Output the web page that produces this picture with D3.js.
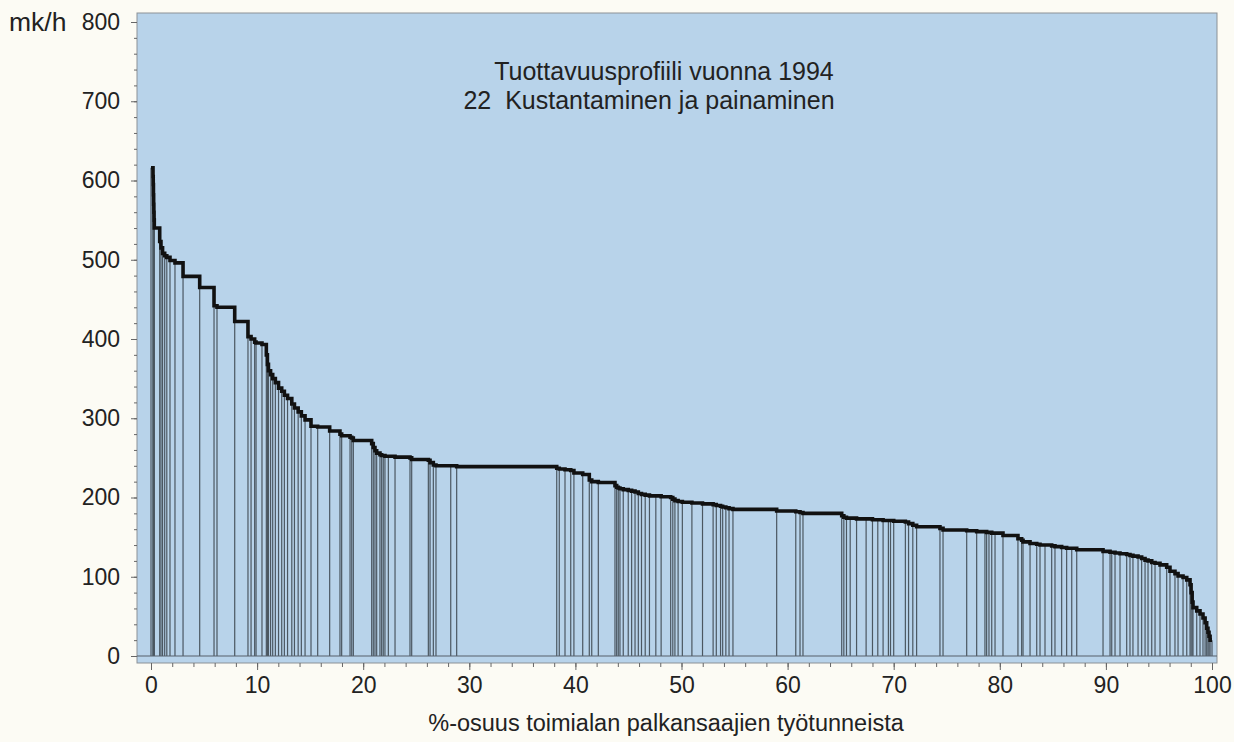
<!DOCTYPE html>
<meta charset="utf-8">
<title>Tuottavuusprofiili 1994</title>
<style>
body {
  margin: 0;
  background: #fcfbf4;
  font-family: "Liberation Sans", Arial, sans-serif;
}
svg text {
  fill: #222;
  font-size: 23px;
}
.axis path {
  display: none;
}
.axis line {
  stroke: #666;
}
.plant-edge {
  stroke: #4b5761;
  stroke-width: 1.2;
}
</style>
<body>
<svg width="1234" height="742"></svg>

<script src="https://d3js.org/d3.v7.min.js"></script>
<script>

// share of the industry's working hours (%) for each plant, in falling order
var shares = [
  0.19, 0.02, 0.02, 0.02, 0.02, 0.02, 0.02, 0.51, 0.12, 0.15,
  0.20, 0.20, 0.30, 0.47, 0.76, 1.57, 1.35, 0.28, 1.67, 1.25,
  0.29, 0.34, 0.13, 0.56, 0.41, 0.10, 0.10, 0.20, 0.20, 0.25,
  0.30, 0.30, 0.25, 0.30, 0.40, 0.25, 0.35, 0.30, 0.35, 0.56,
  0.63, 1.13, 0.97, 0.16, 0.79, 0.16, 0.15, 1.73, 0.15, 0.16,
  0.16, 0.31, 0.16, 0.15, 0.16, 0.32, 0.63, 1.41, 0.16, 1.57,
  0.16, 0.31, 0.25, 1.39, 0.56, 9.43, 0.24, 0.54, 0.54, 0.30,
  0.83, 0.62, 0.23, 0.62, 1.57, 0.16, 0.15, 0.16, 0.31, 0.47,
  0.32, 0.32, 0.31, 0.30, 0.35, 0.40, 0.60, 0.50, 0.90, 0.20,
  0.20, 0.30, 0.40, 0.90, 1.00, 1.00, 0.30, 0.40, 0.20, 0.30,
  0.30, 0.37, 4.12, 1.80, 0.40, 0.28, 3.65, 0.20, 0.25, 0.35,
  0.60, 0.90, 0.60, 0.50, 0.50, 0.50, 0.20, 0.30, 1.10, 0.30,
  0.40, 0.36, 2.20, 0.29, 2.23, 0.94, 0.78, 0.16, 0.22, 0.26,
  0.31, 0.75, 1.41, 0.35, 0.13, 0.66, 0.63, 0.31, 0.47, 0.63,
  0.31, 0.63, 0.47, 0.48, 0.47, 2.48, 0.66, 0.16, 0.31, 0.47,
  0.63, 0.31, 0.28, 0.48, 0.34, 0.32, 0.28, 0.35, 0.31, 0.47,
  0.63, 0.31, 0.47, 0.29, 0.47, 0.35, 0.31, 0.10, 0.10, 0.08,
  0.35, 0.31, 0.28, 0.20, 0.15, 0.12, 0.10, 0.10, 0.18
];

// productivity of each plant, mk per hour
var productivity = [
  616, 605, 595, 582, 570, 560, 550, 540, 523, 515,
  508, 505, 503, 499, 496, 479, 465, 442, 440, 422,
  403, 400, 396, 395, 393, 380, 368, 360, 355, 350,
  345, 338, 334, 329, 325, 318, 313, 308, 303, 298,
  290, 289, 284, 280, 278, 276, 275, 272, 268, 263,
  259, 256, 254, 253, 253, 252, 252, 251, 250, 248,
  247, 244, 241, 240, 240, 239, 237, 236, 235, 234,
  231, 229, 222, 220, 219, 215, 213, 212, 211, 210,
  209, 208, 207, 205, 204, 203, 202, 202, 201, 200,
  198, 196, 195, 194, 193, 192, 191, 190, 189, 188,
  187, 186, 185, 183, 182, 181, 180, 177, 175, 174,
  174, 173, 173, 172, 172, 171, 171, 171, 170, 169,
  167, 165, 163, 161, 159, 158, 157, 157, 156, 156,
  155, 155, 152, 148, 146, 144, 142, 141, 140, 140,
  139, 138, 137, 136, 136, 134, 132, 131, 131, 130,
  129, 128, 127, 126, 125, 123, 121, 120, 118, 117,
  115, 112, 107, 104, 101, 99, 96, 90, 80, 68,
  61, 57, 53, 48, 42, 35, 30, 25, 20
];

var yTicks = [0, 100, 200, 300, 400, 500, 600, 700, 800];
var xTicks = [0, 10, 20, 30, 40, 50, 60, 70, 80, 90, 100];

var titleLines = ["Tuottavuusprofiili vuonna 1994", "22  Kustantaminen ja painaminen"];
var yUnit = "mk/h";
var xTitle = "%-osuus toimialan palkansaajien työtunneista";

var svg = d3.select("svg");

// plot panel
var panel = {left: 137, top: 13, right: 1217, bottom: 663};

var x = d3.scaleLinear().domain([0, 100]).range([151, 1212]);
var y = d3.scaleLinear().domain([0, 800]).range([656, 22]);

svg.append("rect")
    .attr("x", panel.left)
    .attr("y", panel.top)
    .attr("width", panel.right - panel.left)
    .attr("height", panel.bottom - panel.top)
    .attr("fill", "#b8d3ea")
    .attr("stroke", "#8b9196")
    .attr("stroke-width", 1);

// start / end positions of each plant
var ends = Array.from(d3.cumsum(shares));
var plants = productivity.map(function(v, i) {
  return {value: v, start: i ? ends[i - 1] : 0, end: ends[i]};
});

// thin edges of every plant bar
svg.append("g")
  .selectAll("line")
  .data(plants)
  .enter().append("line")
    .attr("class", "plant-edge")
    .attr("x1", function(d) { return x(d.start); })
    .attr("x2", function(d) { return x(d.start); })
    .attr("y1", y(0))
    .attr("y2", function(d) { return y(d.value); });

var last = plants[plants.length - 1];
svg.append("line")
    .attr("class", "plant-edge")
    .attr("x1", x(last.end)).attr("x2", x(last.end))
    .attr("y1", y(0)).attr("y2", y(last.value));

// zero line
svg.append("line")
    .attr("x1", panel.left).attr("x2", panel.right)
    .attr("y1", y(0)).attr("y2", y(0))
    .attr("stroke", "#56616b")
    .attr("stroke-width", 1.2);

// the profile itself, a stepped line across the tops
var pts = [];
plants.forEach(function(d) {
  pts.push([d.start, d.value]);
  pts.push([d.end, d.value]);
});

var line = d3.line()
    .x(function(d) { return x(d[0]); })
    .y(function(d) { return y(d[1]); });

svg.append("path")
    .datum(pts)
    .attr("d", line)
    .attr("fill", "none")
    .attr("stroke", "#111")
    .attr("stroke-width", 3.6)
    .attr("stroke-linejoin", "miter");

// y axis, major + minor ticks
svg.append("g")
    .attr("class", "axis")
    .attr("transform", "translate(" + panel.left + ",0)")
    .call(d3.axisLeft(y).tickValues(d3.range(0, 801, 20)).tickSize(3).tickFormat(""));

svg.append("g")
    .attr("class", "axis")
    .attr("transform", "translate(" + panel.left + ",0)")
    .call(d3.axisLeft(y).tickValues(yTicks).tickSize(6).tickPadding(11))
  .selectAll("text")
    .style("font-size", "23px")
    .attr("font-family", "Liberation Sans, Arial, sans-serif");

// x axis
svg.append("g")
    .attr("class", "axis")
    .attr("transform", "translate(0," + panel.bottom + ")")
    .call(d3.axisBottom(x).tickValues(d3.range(0, 101, 2)).tickSize(4).tickFormat(""));

svg.append("g")
    .attr("class", "axis")
    .attr("transform", "translate(0," + panel.bottom + ")")
    .call(d3.axisBottom(x).tickValues(xTicks).tickSize(7).tickPadding(7))
  .selectAll("text")
    .style("font-size", "23px")
    .attr("font-family", "Liberation Sans, Arial, sans-serif");

svg.selectAll(".axis text").style("fill", "#222");

// unit label
svg.append("text")
    .attr("x", 9)
    .attr("y", 31)
    .style("font-size", "26.5px")
    .text(yUnit);

// title inside the panel
var titleX = [664, 649];
svg.append("g")
  .selectAll("text")
  .data(titleLines)
  .enter().append("text")
    .attr("x", function(d, i) { return titleX[i]; })
    .attr("y", function(d, i) { return 80 + i * 29; })
    .attr("text-anchor", "middle")
    .style("font-size", "25px")
    .style("white-space", "pre")
    .text(function(d) { return d; });

svg.append("text")
    .attr("x", 666)
    .attr("y", 731)
    .attr("text-anchor", "middle")
    .style("font-size", "23.5px")
    .text(xTitle);

</script>
</body>
